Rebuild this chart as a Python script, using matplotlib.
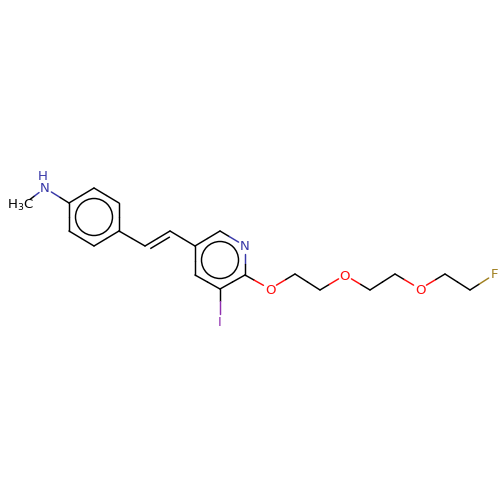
import numpy as np
import matplotlib
matplotlib.use('Agg')
from matplotlib import pyplot as plt

# atom positions in picture pixels
atoms = {
    'N1': (45, 188), 'Me': (24, 204),
    'a1': (69, 203), 'a2': (94, 188), 'a3': (119, 203),
    'a4': (119, 231), 'a5': (94, 246), 'a6': (69, 231),
    'v1': (145, 246), 'v2': (170, 231),
    'p1': (195, 246), 'p2': (220, 231), 'N2': (245, 246),
    'p4': (245, 275), 'p5': (220, 289), 'p6': (195, 275),
    'I': (220, 321), 'O1': (270, 289), 'c1': (295, 274), 'c2': (320, 290),
    'O2': (345, 275), 'c3': (370, 290), 'c4': (395, 274), 'O3': (420, 289),
    'c5': (445, 274), 'c6': (470, 290), 'F': (495, 274),
}
bonds = [('Me', 'N1'), ('N1', 'a1'), ('a1', 'a2'), ('a2', 'a3'), ('a3', 'a4'),
         ('a4', 'a5'), ('a5', 'a6'), ('a6', 'a1'), ('a4', 'v1'), ('v1', 'v2'),
         ('v2', 'p1'), ('p1', 'p2'), ('p2', 'N2'), ('N2', 'p4'), ('p4', 'p5'),
         ('p5', 'p6'), ('p6', 'p1'), ('p5', 'I'), ('p4', 'O1'), ('O1', 'c1'),
         ('c1', 'c2'), ('c2', 'O2'), ('O2', 'c3'), ('c3', 'c4'), ('c4', 'O3'),
         ('O3', 'c5'), ('c5', 'c6'), ('c6', 'F')]
labels = {'N1': ('N', '#3838a8'), 'N2': ('N', '#3838a8'), 'I': ('I', '#9030b0'),
          'O1': ('O', '#ff0d0d'), 'O2': ('O', '#ff0d0d'), 'O3': ('O', '#ff0d0d'),
          'F': ('F', '#a08020')}
rings = [((94, 217), 18.5), ((220, 260), 18.5)]
LW = 1.05

fig = plt.figure(figsize=(5, 5), dpi=100)
ax = fig.add_axes([0, 0, 1, 1])
ax.set_xlim(0, 500)
ax.set_ylim(500, 0)
ax.axis('off')

def trim(p, q, name):
    # shorten the bond end that sits under a label
    if name in labels or name == 'Me':
        d = np.subtract(q, p)
        return np.add(p, d * 7.5 / np.hypot(*d))
    return np.array(p, float)

for a, b in bonds:
    p, q = atoms[a], atoms[b]
    s = trim(p, q, a)
    e = trim(q, p, b)
    m = (s + e) / 2
    ca = labels.get(a, ('', 'black'))[1]
    cb = labels.get(b, ('', 'black'))[1]
    ax.plot([s[0], m[0]], [s[1], m[1]], color=ca, lw=LW, solid_capstyle='round')
    ax.plot([m[0], e[0]], [m[1], e[1]], color=cb, lw=LW, solid_capstyle='round')

# inner line of vinyl double bond
p, q = np.array(atoms['v1'], float), np.array(atoms['v2'], float)
d = q - p
n = np.array([d[1], -d[0]]) / np.hypot(*d)
ax.plot([p[0] + 4 * d[0] / 30 - 5 * n[0], q[0] - 4 * d[0] / 30 - 5 * n[0]],
        [p[1] + 4 * d[1] / 30 - 5 * n[1], q[1] - 4 * d[1] / 30 - 5 * n[1]],
        color='black', lw=LW)

for c, r in rings:
    ax.add_patch(plt.Circle(c, r, fill=False, color='black', lw=LW))

for k, (t, col) in labels.items():
    x, y = atoms[k]
    ax.text(x, y + 1, t, color=col, fontsize=9.5, ha='center', va='center')
ax.text(43, 176, 'H', color='#3838a8', fontsize=9.5, ha='center', va='center')
ax.text(20, 205, 'H$_3$C', color='black', fontsize=9.5, ha='center', va='center')

fig.savefig('out.png', dpi=100)
